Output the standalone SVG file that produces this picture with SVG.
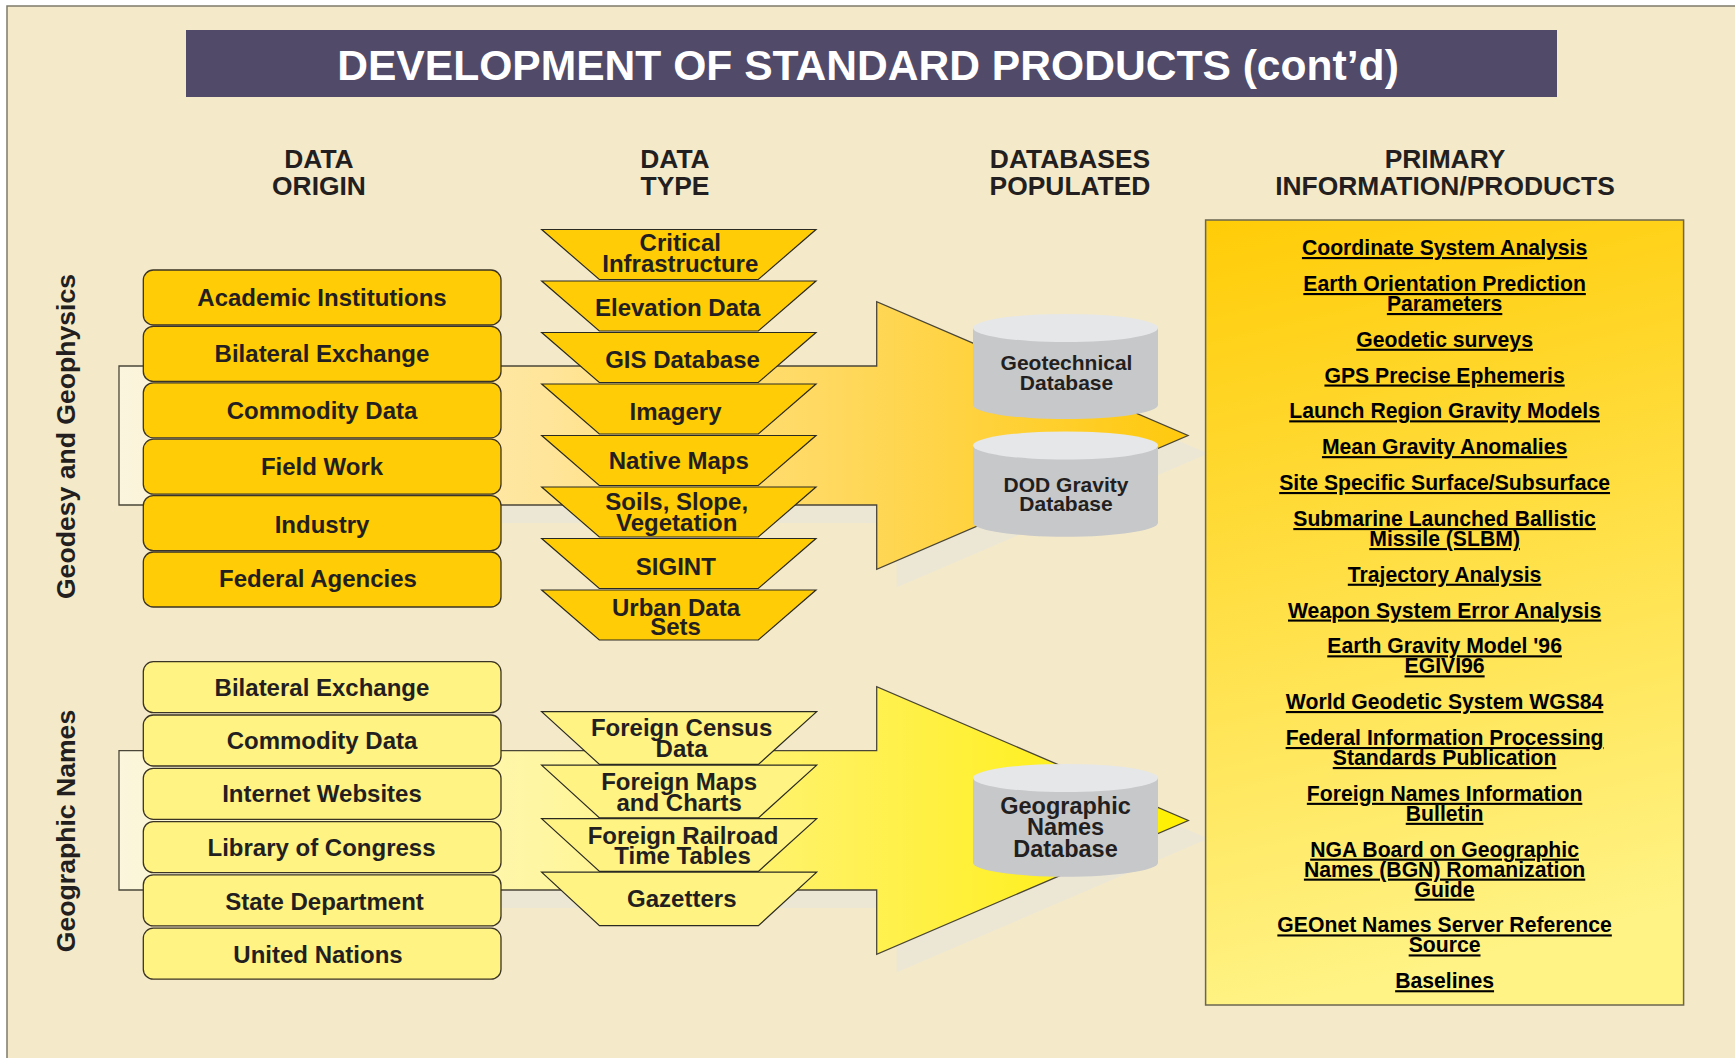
<svg xmlns="http://www.w3.org/2000/svg" width="1735" height="1058" viewBox="0 0 1735 1058">
<defs>
<style>
text{font-family:"Liberation Sans",Arial,Helvetica,sans-serif;font-weight:bold;fill:#231F20}
.hdr{font-size:26.4px;text-anchor:middle}
.box1{fill:#FFCC05;stroke:#3B3323;stroke-width:1.3}
.box2{fill:#FFF383;stroke:#3B3323;stroke-width:1.3}
.bt{font-size:24px;text-anchor:middle}
.trap1{fill:#FFCC05;stroke:#2A2A22;stroke-width:1.2}
.trap2{fill:#FFF383;stroke:#2A2A22;stroke-width:1.2}
.tt{font-size:24px;text-anchor:middle}
.cylb{fill:#C7C8CA}
.cylt{fill:#E6E7E8}
.ct{font-size:21px;text-anchor:middle}
.pt{font-size:21.2px;text-anchor:middle;fill:#000;text-decoration:underline}
.shadow{fill:#ECE7D5}
.vl{font-size:26.6px;text-anchor:middle}
</style>
<linearGradient id="g1" gradientUnits="userSpaceOnUse" x1="119" y1="0" x2="1188" y2="0">
<stop offset="0" stop-color="#FBF5DE"/>
<stop offset="0.4" stop-color="#FFE59A"/>
<stop offset="0.7" stop-color="#FFD757"/>
<stop offset="1" stop-color="#FFC90D"/>
</linearGradient>
<linearGradient id="g2" gradientUnits="userSpaceOnUse" x1="119" y1="0" x2="1188" y2="0">
<stop offset="0" stop-color="#FBF6DC"/>
<stop offset="0.4" stop-color="#FFF6A2"/>
<stop offset="0.75" stop-color="#FFF045"/>
<stop offset="1" stop-color="#FFF000"/>
</linearGradient>
<linearGradient id="gp" x1="0" y1="0" x2="0.15" y2="1">
<stop offset="0" stop-color="#FFCC07"/>
<stop offset="1" stop-color="#FFF385"/>
</linearGradient>
</defs>

<rect x="0" y="0" width="1735" height="1058" fill="#FFFFFF"/>
<rect x="7" y="6" width="1740" height="1060" fill="#F4E9C9" stroke="#7E7A6A" stroke-width="1.5"/>

<g id="title">
<rect x="186" y="30" width="1371" height="67" fill="#514A69"/>
<text x="868" y="80" style="font-size:42.6px;fill:#FFFFFF;text-anchor:middle">DEVELOPMENT OF STANDARD PRODUCTS (cont’d)</text>
</g>

<g id="headers">
<text class="hdr" x="319" y="168">DATA<tspan x="319" dy="27">ORIGIN</tspan></text>
<text class="hdr" x="675" y="168">DATA<tspan x="675" dy="27">TYPE</tspan></text>
<text class="hdr" x="1070" y="168">DATABASES<tspan x="1070" dy="27">POPULATED</tspan></text>
<text class="hdr" x="1445" y="168">PRIMARY<tspan x="1445" dy="27">INFORMATION/PRODUCTS</tspan></text>
</g>

<g id="side-labels">
<text class="vl" transform="translate(75,436.5) rotate(-90)">Geodesy and Geophysics</text>
<text class="vl" transform="translate(75,831) rotate(-90)">Geographic Names</text>
</g>

<g id="connectors">
<polygon class="shadow" points="143,384 896.7,384 896.7,319.7 1208,453.5 896.7,587.3 896.7,523 143,523"/>
<polygon points="119,366 876.7,366 876.7,301.7 1188,435.5 876.7,569.3 876.7,505 119,505" fill="url(#g1)" stroke="#4A4638" stroke-width="1.3"/>
<polygon class="shadow" points="143,768.7 896.7,768.7 896.7,704.7 1208.3,838.5 896.7,972.3 896.7,908 143,908"/>
<polygon points="119,750.7 876.7,750.7 876.7,686.7 1188.3,820.5 876.7,954.3 876.7,890 119,890" fill="url(#g2)" stroke="#4A4638" stroke-width="1.3"/>
</g>

<g id="origin-geodesy">
<g id="o1"><rect class="box1" x="143.3" y="270" width="357.7" height="55" rx="10"/><text class="bt" x="322" y="306">Academic Institutions</text></g>
<g id="o2"><rect class="box1" x="143.3" y="326.4" width="357.7" height="55" rx="10"/><text class="bt" x="322" y="362.4">Bilateral Exchange</text></g>
<g id="o3"><rect class="box1" x="143.3" y="382.8" width="357.7" height="55" rx="10"/><text class="bt" x="322" y="418.8">Commodity Data</text></g>
<g id="o4"><rect class="box1" x="143.3" y="439.2" width="357.7" height="55" rx="10"/><text class="bt" x="322" y="475.2">Field Work</text></g>
<g id="o5"><rect class="box1" x="143.3" y="495.6" width="357.7" height="55" rx="10"/><text class="bt" x="322" y="532.5">Industry</text></g>
<g id="o6"><rect class="box1" x="143.3" y="552" width="357.7" height="55" rx="10"/><text class="bt" x="318" y="587">Federal Agencies</text></g>
</g>

<g id="origin-names">
<g id="n1"><rect class="box2" x="143.3" y="661.7" width="357.7" height="51" rx="10"/><text class="bt" x="322" y="695.5">Bilateral Exchange</text></g>
<g id="n2"><rect class="box2" x="143.3" y="715" width="357.7" height="51" rx="10"/><text class="bt" x="322" y="748.8">Commodity Data</text></g>
<g id="n3"><rect class="box2" x="143.3" y="768.3" width="357.7" height="51" rx="10"/><text class="bt" x="322" y="802.1">Internet Websites</text></g>
<g id="n4"><rect class="box2" x="143.3" y="821.6" width="357.7" height="51" rx="10"/><text class="bt" x="321.5" y="856">Library of Congress</text></g>
<g id="n5"><rect class="box2" x="143.3" y="874.9" width="357.7" height="51" rx="10"/><text class="bt" x="324.5" y="909.5">State Department</text></g>
<g id="n6"><rect class="box2" x="143.3" y="928.2" width="357.7" height="51" rx="10"/><text class="bt" x="318" y="963">United Nations</text></g>
</g>

<g id="types-geodesy">
<g id="t1"><polygon class="trap1" points="541.7,229.5 816,229.5 758.3,279.5 599.3,279.5"/><text class="tt" x="680.3" y="250.7">Critical<tspan x="680.3" dy="21">Infrastructure</tspan></text></g>
<g id="t2"><polygon class="trap1" points="541.7,281 816,281 758.3,331 599.3,331"/><text class="tt" x="677.7" y="315.5">Elevation Data</text></g>
<g id="t3"><polygon class="trap1" points="541.7,332.5 816,332.5 758.3,382.5 599.3,382.5"/><text class="tt" x="682.5" y="368">GIS Database</text></g>
<g id="t4"><polygon class="trap1" points="541.7,384 816,384 758.3,434 599.3,434"/><text class="tt" x="675.5" y="419.8">Imagery</text></g>
<g id="t5"><polygon class="trap1" points="541.7,435.5 816,435.5 758.3,485.5 599.3,485.5"/><text class="tt" x="678.8" y="469">Native Maps</text></g>
<g id="t6"><polygon class="trap1" points="541.7,487 816,487 758.3,537 599.3,537"/><text class="tt" x="676.7" y="510">Soils, Slope,<tspan x="676.7" dy="20.7">Vegetation</tspan></text></g>
<g id="t7"><polygon class="trap1" points="541.7,538.5 816,538.5 758.3,588.5 599.3,588.5"/><text class="tt" x="675.8" y="574.5">SIGINT</text></g>
<g id="t8"><polygon class="trap1" points="541.7,590 816,590 758.3,640 599.3,640"/><text class="tt" x="676" y="615.5">Urban Data<tspan x="675.5" dy="19.5">Sets</tspan></text></g>
</g>

<g id="types-names">
<g id="u1"><polygon class="trap2" points="541.6,711.7 816.7,711.7 758.4,764.4 599.5,764.4"/><text class="tt" x="681.6" y="736.3">Foreign Census<tspan x="681.6" dy="20.7">Data</tspan></text></g>
<g id="u2"><polygon class="trap2" points="541.6,765.2 816.7,765.2 758.4,817.9 599.5,817.9"/><text class="tt" x="679.2" y="790.3">Foreign Maps<tspan x="679.2" dy="20.7">and Charts</tspan></text></g>
<g id="u3"><polygon class="trap2" points="541.6,818.7 816.7,818.7 758.4,871.4 599.5,871.4"/><text class="tt" x="683" y="844.3">Foreign Railroad<tspan x="682.5" dy="20">Time Tables</tspan></text></g>
<g id="u4"><polygon class="trap2" points="541.6,872.2 816.7,872.2 758.4,925.7 599.5,925.7"/><text class="tt" x="681.8" y="906.5">Gazetters</text></g>
</g>

<g id="db-geotech">
<path class="cylb" d="M973,328 L973,405 A92.5,14 0 0 0 1158,405 L1158,328 Z"/>
<ellipse class="cylt" cx="1065.5" cy="328" rx="92.5" ry="14"/>
<text class="ct" x="1066.5" y="370">Geotechnical<tspan x="1066.5" dy="20">Database</tspan></text>
</g>
<g id="db-gravity">
<path class="cylb" d="M973,445.5 L973,522.7 A92.5,14 0 0 0 1158,522.7 L1158,445.5 Z"/>
<ellipse class="cylt" cx="1065.5" cy="445.5" rx="92.5" ry="14"/>
<text class="ct" x="1066" y="491.7">DOD Gravity<tspan x="1066" dy="19.5">Database</tspan></text>
</g>
<g id="db-names">
<path class="cylb" d="M973,778 L973,862.7 A92.5,14 0 0 0 1158,862.7 L1158,778 Z"/>
<ellipse class="cylt" cx="1065.5" cy="778" rx="92.5" ry="14"/>
<text class="ct" x="1065.5" y="813.5" style="font-size:23.5px">Geographic<tspan x="1065.5" dy="21.5">Names</tspan><tspan x="1065.5" dy="21.5">Database</tspan></text>
</g>

<g id="products">
<rect x="1205.6" y="220" width="478" height="785" fill="url(#gp)" stroke="#6B6650" stroke-width="1.5"/>
<text class="pt" x="1444.6" y="255">Coordinate System Analysis</text>
<text class="pt" x="1444.6" y="291">Earth Orientation Prediction<tspan x="1444.6" dy="20">Parameters</tspan></text>
<text class="pt" x="1444.6" y="346.7">Geodetic surveys</text>
<text class="pt" x="1444.6" y="382.5">GPS Precise Ephemeris</text>
<text class="pt" x="1444.6" y="418.3">Launch Region Gravity Models</text>
<text class="pt" x="1444.6" y="454.1">Mean Gravity Anomalies</text>
<text class="pt" x="1444.6" y="490">Site Specific Surface/Subsurface</text>
<text class="pt" x="1444.6" y="526">Submarine Launched Ballistic<tspan x="1444.6" dy="20">Missile (SLBM)</tspan></text>
<text class="pt" x="1444.6" y="581.7">Trajectory Analysis</text>
<text class="pt" x="1444.6" y="617.5">Weapon System Error Analysis</text>
<text class="pt" x="1444.6" y="653.3">Earth Gravity Model '96<tspan x="1444.6" dy="20">EGIVI96</tspan></text>
<text class="pt" x="1444.6" y="709">World Geodetic System WGS84</text>
<text class="pt" x="1444.6" y="745">Federal Information Processing<tspan x="1444.6" dy="20">Standards Publication</tspan></text>
<text class="pt" x="1444.6" y="800.8">Foreign Names Information<tspan x="1444.6" dy="20">Bulletin</tspan></text>
<text class="pt" x="1444.6" y="856.6">NGA Board on Geographic<tspan x="1444.6" dy="20">Names (BGN) Romanization</tspan><tspan x="1444.6" dy="20">Guide</tspan></text>
<text class="pt" x="1444.6" y="932.4">GEOnet Names Server Reference<tspan x="1444.6" dy="20">Source</tspan></text>
<text class="pt" x="1444.6" y="988.2">Baselines</text>
</g>
</svg>
